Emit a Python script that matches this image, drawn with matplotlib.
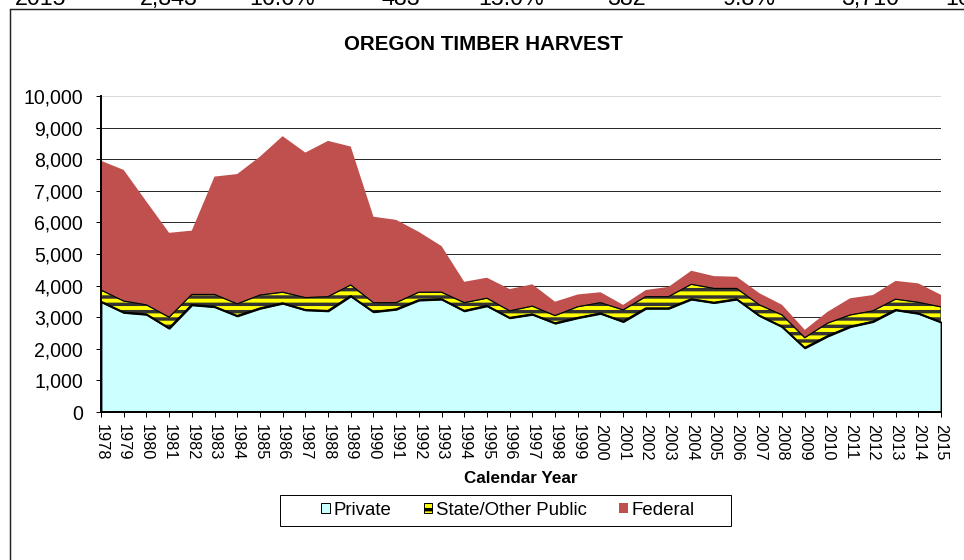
import matplotlib
matplotlib.use("Agg")
import matplotlib.pyplot as plt
import numpy as np
from matplotlib.patches import Patch, Rectangle

# Oregon timber harvest by ownership (MMBF), calendar years 1978-2015
years = list(range(1978, 2016))
private = [3490, 3150, 3090, 2650, 3390, 3330, 3040, 3280, 3440, 3230,
           3200, 3670, 3170, 3250, 3540, 3570, 3200, 3360, 2980, 3090,
           2810, 2980, 3120, 2860, 3280, 3280, 3570, 3460, 3570, 3050,
           2700, 2030, 2400, 2700, 2860, 3230, 3120, 2843]
state_other = [370, 360, 300, 350, 330, 390, 380, 420, 350, 390,
               450, 350, 290, 210, 250, 220, 260, 240, 220, 260,
               240, 350, 340, 370, 370, 370, 470, 450, 340, 340,
               370, 320, 410, 370, 340, 340, 350, 483]
federal = [4090, 4150, 3270, 2670, 2020, 3730, 4110, 4380, 4940, 4590,
           4930, 4380, 2720, 2620, 1910, 1460, 660, 650, 690, 690,
           440, 390, 330, 160, 210, 310, 430, 390, 370, 370,
           320, 250, 360, 530, 500, 580, 600, 382]

series_names = ["Private", "State/Other Public", "Federal"]
yticks = list(range(0, 10001, 1000))

# last row of the summary table printed above the chart
table_row = ["2015", "2,843", "16.6%", "483", "15.0%", "382", "9.8%", "3,710", "10"]
table_x = [41, 169, 282, 401, 511, 626, 749, 870, 945]

C_PRIVATE = "#CCFFFF"
C_STATE = "#FFFF00"
C_FED = "#C0504D"
C_STRIPE = "#333333"

DPI = 88
W, H = 964, 560
plt.rcParams["font.family"] = ["Liberation Sans", "DejaVu Sans"]
plt.rcParams["hatch.linewidth"] = 2.8

fig = plt.figure(figsize=(W / DPI, H / DPI), dpi=DPI)
fig.patch.set_facecolor("white")

def fx(px):
    return px / W

def fy(py):
    return 1 - py / H

ax = fig.add_axes([fx(101), fy(412), fx(941) - fx(101), fy(96) - fy(412)])

yrs = np.array(years, dtype=float)
p = np.array(private, dtype=float)
s = np.array(state_other, dtype=float)
f = np.array(federal, dtype=float)
ps = p + s
tot = ps + f

ax.fill_between(yrs, 0, p, facecolor=C_PRIVATE, edgecolor="black",
                linewidth=1.5, zorder=2)
ax.fill_between(yrs, p, ps, facecolor=C_STATE, edgecolor=C_STRIPE,
                hatch="--", linewidth=1.0, zorder=3)
ax.fill_between(yrs, ps, tot, facecolor=C_FED, edgecolor="none",
                linewidth=0, zorder=2)
ax.plot(yrs, p, color="black", linewidth=1.6, zorder=4)
ax.plot(yrs, ps, color="black", linewidth=0.8, zorder=4)

ax.set_xlim(1978, 2015)
ax.set_ylim(0, 10000)
ax.set_yticks(yticks)
ax.set_yticklabels([f"{v:,}" for v in yticks], fontsize=16)
ax.set_xticks(years)
ax.set_xticklabels([str(y) for y in years], rotation=270, fontsize=13.4)

ax.tick_params(axis="y", direction="out", length=4.1, width=0.8, pad=10.5)
ax.tick_params(axis="x", direction="out", length=4.1, width=0.8, pad=6.0)

ax.set_axisbelow(True)
ax.yaxis.grid(True, color="#262626", linewidth=0.8)
ax.xaxis.grid(False)
ax.get_ygridlines()[-1].set_color("#d9d9d9")

for side in ("top", "right"):
    ax.spines[side].set_visible(False)
for side in ("left", "bottom"):
    ax.spines[side].set_linewidth(1.6)
    ax.spines[side].set_color("black")
    ax.spines[side].set_zorder(5)

ax.set_xlabel("Calendar Year", fontsize=13.9, fontweight="bold")
ax.xaxis.set_label_coords(0.5, (412 - 471) / 316)

fig.text(fx(483), fy(45), "OREGON TIMBER HARVEST", ha="center", va="center",
         fontsize=16.8, fontweight="bold")

# chart frame (left and top edges visible)
fig.patches.append(Rectangle((fx(9.5), -0.2), 2.0, fy(9) + 0.2,
                             transform=fig.transFigure, facecolor="none",
                             edgecolor="#222222", linewidth=1.2))

for txt, xc in zip(table_row, table_x):
    ha = "left" if txt == "10" else "center"
    fig.text(fx(xc), fy(5), txt, ha=ha, va="baseline", fontsize=19)

# legend
fig.patches.append(Rectangle((fx(280), fy(526)), fx(731) - fx(280),
                             fy(495) - fy(526), transform=fig.transFigure,
                             facecolor="white", edgecolor="black",
                             linewidth=0.8))
handles = [
    Patch(facecolor=C_PRIVATE, edgecolor="black", linewidth=0.8),
    Patch(facecolor=C_STATE, edgecolor="black", hatch="--", linewidth=0.8),
    Patch(facecolor=C_FED, edgecolor="none"),
]
fig.legend(handles, series_names, loc="center",
           bbox_to_anchor=(fx(508), fy(510.5)), ncol=3, frameon=False,
           fontsize=15.2, handlelength=0.45, handleheight=0.45,
           handletextpad=0.2, columnspacing=1.75, borderpad=0.0)

fig.savefig("out.png", dpi=DPI, facecolor="white")
